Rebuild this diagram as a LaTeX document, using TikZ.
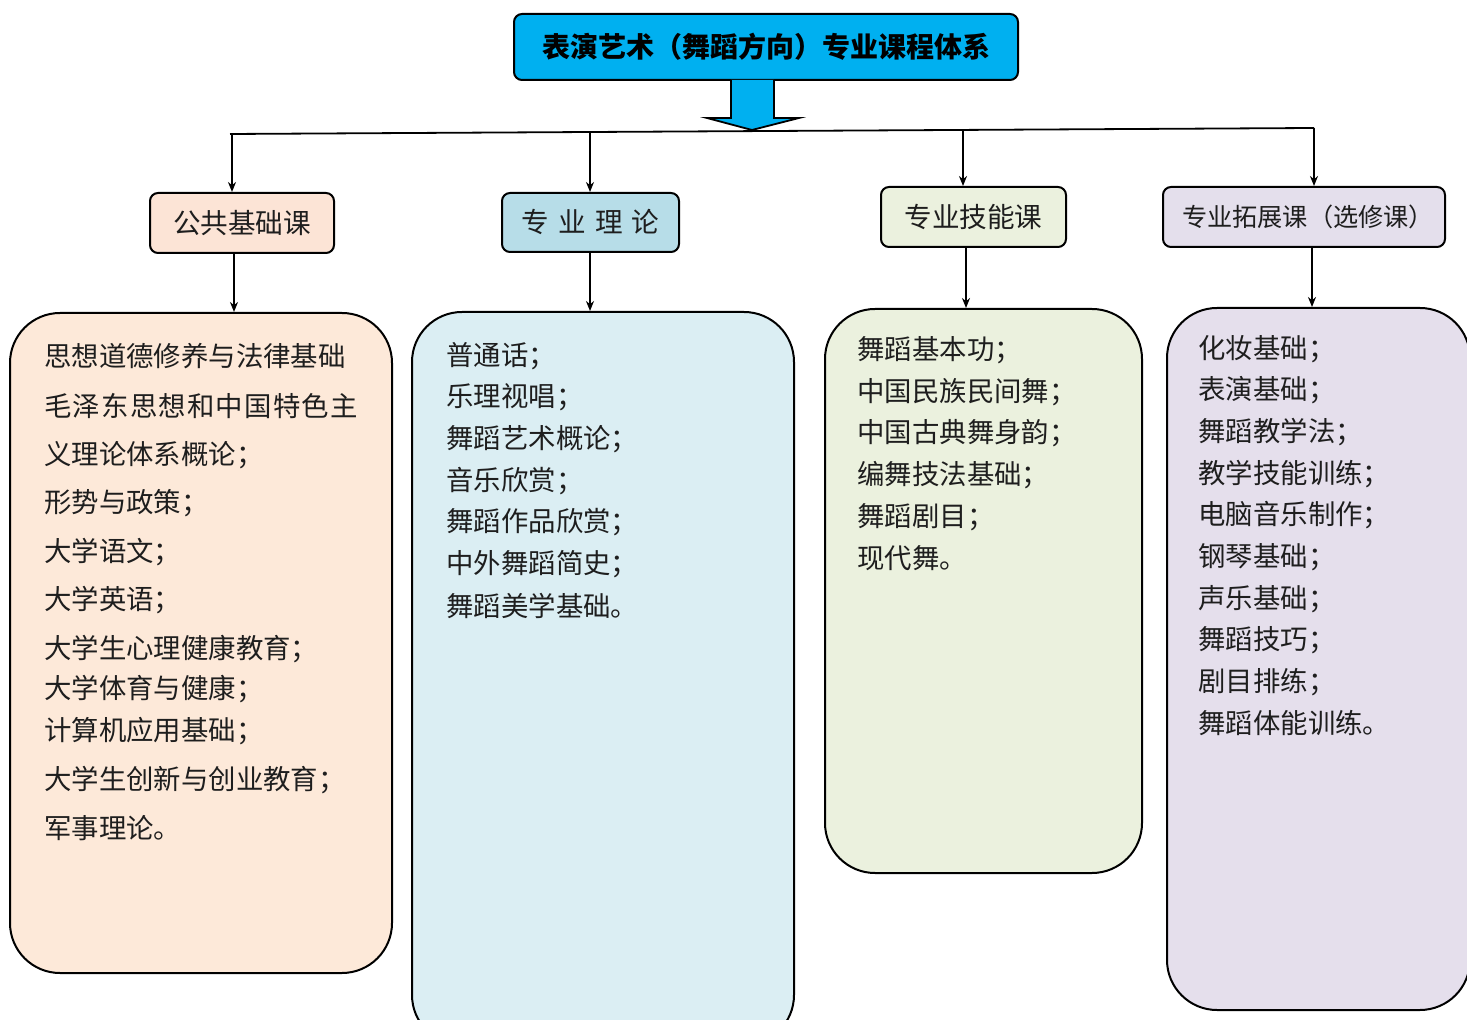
\documentclass[tikz,border=0pt]{standalone}
\usepackage{fontspec}
\newfontfamily\cjk{Noto Sans CJK SC}
\usetikzlibrary{arrows.meta}
\definecolor{titlecyan}{HTML}{00B0F0}
\definecolor{hA}{HTML}{FCE4D6}
\definecolor{hB}{HTML}{B7DDE8}
\definecolor{hC}{HTML}{EBF1DE}
\definecolor{hD}{HTML}{E4DFEC}
\definecolor{bA}{HTML}{FDE9D9}
\definecolor{bB}{HTML}{DBEEF3}
\definecolor{bC}{HTML}{EBF1DE}
\definecolor{bD}{HTML}{E5DFEC}
\definecolor{txt}{HTML}{1E1E1E}
\begin{document}
\begin{tikzpicture}[x=0.5pt,y=-0.5pt,
  hdr/.style={draw=black, line width=1pt, rounded corners=4pt, inner sep=0pt, font=\cjk\fontsize{13.8}{15}\selectfont, text=txt},
  bigbox/.style={draw=black, line width=1pt, rounded corners=25pt, inner sep=0pt},
  item/.style={anchor=west, inner sep=0pt, font=\cjk\fontsize{13.7}{15}\selectfont, text=txt},
  conn/.style={line width=0.9pt, -{Stealth[length=5pt,width=4pt]}},
  bar/.style={line width=0.9pt}
]
\useasboundingbox (0,0) rectangle (1467,1020);
\begin{scope}
\clip (0,0) rectangle (1467,1020);
% title
\node[draw=black, line width=1pt, fill=titlecyan, rounded corners=4pt, minimum width=252pt, minimum height=33pt, inner sep=0pt, font=\cjk\bfseries\fontsize{14}{16}\selectfont] (title) at (766,47) {表演艺术（舞蹈方向）专业课程体系};
% block arrow
\draw[line width=0.9pt, fill=titlecyan, line join=miter] (731,80) -- (731,118) -- (707,118) -- (752,130) -- (799,118) -- (774,118) -- (774,80);
\coordinate (bl) at (230,134);
\coordinate (br) at (1314,128);
\coordinate (j1) at (232,134);
\coordinate (j2) at (590,132);
\coordinate (j3) at (963,130);
\coordinate (j4) at (1314,128);
\draw[bar] (bl) -- (br);
% headers
\node[hdr, fill=hA, minimum width=92pt, minimum height=30pt] (h1) at (242,223) {公共基础课};
\node[hdr, fill=hB, minimum width=88.5pt, minimum height=29.5pt] (h2) at (590.5,222.5) {专\hspace{4.5pt}业\hspace{4.5pt}理\hspace{4.5pt}论};
\node[hdr, fill=hC, minimum width=92.5pt, minimum height=30pt] (h3) at (973.5,217) {专业技能课};
\node[hdr, fill=hD, minimum width=141pt, minimum height=30pt, font=\cjk\fontsize{12.6}{15}\selectfont] (h4) at (1304,217) {\hspace{4pt}专业拓展课（选修课）};
\draw[conn] (j1) -- (j1 |- h1.north);
\draw[conn] (j2) -- (j2 |- h2.north);
\draw[conn] (j3) -- (j3 |- h3.north);
\draw[conn] (j4) -- (j4 |- h4.north);
% big boxes
\node[bigbox, fill=bA, minimum width=191pt, minimum height=330pt] (b1) at (201,643) {};
\node[bigbox, fill=bB, minimum width=191pt, minimum height=366.5pt] (b2) at (603,678.5) {};
\node[bigbox, fill=bC, minimum width=158.5pt, minimum height=282pt] (b3) at (983.5,591) {};
\node[bigbox, fill=bD, minimum width=151.5pt, minimum height=351pt] (b4) at (1318.5,659) {};
\coordinate (k1) at (234,253);
\coordinate (k2) at (590,252);
\coordinate (k3) at (966,247);
\coordinate (k4) at (1312,247);
\draw[conn] (k1) -- (k1 |- b1.north);
\draw[conn] (k2) -- (k2 |- b2.north);
\draw[conn] (k3) -- (k3 |- b3.north);
\draw[conn] (k4) -- (k4 |- b4.north);
% box 1 text
\node[item] (a1) at (44,356) {思想道德修养与法律基础};
\node[item] (a2) at (44,406) {毛\hspace{0.6pt}泽\hspace{0.6pt}东\hspace{0.6pt}思\hspace{0.6pt}想\hspace{0.6pt}和\hspace{0.6pt}中\hspace{0.6pt}国\hspace{0.6pt}特\hspace{0.6pt}色\hspace{0.6pt}主};
\node[item] (a3) at (44,455) {义理论体系概论；};
\node[item] (a4) at (44,503) {形势与政策；};
\node[item] (a5) at (44,552) {大学语文；};
\node[item] (a6) at (44,600) {大学英语；};
\node[item] (a7) at (44,649) {大学生心理健康教育；};
\node[item] (a8) at (44,689) {大学体育与健康；};
\node[item] (a9) at (44,731) {计算机应用基础；};
\node[item] (a10) at (44,780) {大学生创新与创业教育；};
\node[item] (a11) at (44,828) {军事理论。};
% box 2 text
\node[item] (c1) at (446,356) {普通话；};
\node[item] (c2) at (446,397) {乐理视唱；};
\node[item] (c3) at (446,439) {舞蹈艺术概论；};
\node[item] (c4) at (446,481) {音乐欣赏；};
\node[item] (c5) at (446,522) {舞蹈作品欣赏；};
\node[item] (c6) at (446,564) {中外舞蹈简史；};
\node[item] (c7) at (446,606) {舞蹈美学基础。};
% box 3 text
\node[item] (d1) at (857,350) {舞蹈基本功；};
\node[item] (d2) at (857,392) {中国民族民间舞；};
\node[item] (d3) at (857,433) {中国古典舞身韵；};
\node[item] (d4) at (857,475) {编舞技法基础；};
\node[item] (d5) at (857,517) {舞蹈剧目；};
\node[item] (d6) at (857,558) {现代舞。};
% box 4 text
\node[item] (e1) at (1198,349) {化妆基础；};
\node[item] (e2) at (1198,390) {表演基础；};
\node[item] (e3) at (1198,432) {舞蹈教学法；};
\node[item] (e4) at (1198,474) {教学技能训练；};
\node[item] (e5) at (1198,515) {电脑音乐制作；};
\node[item] (e6) at (1198,557) {钢琴基础；};
\node[item] (e7) at (1198,599) {声乐基础；};
\node[item] (e8) at (1198,640) {舞蹈技巧；};
\node[item] (e9) at (1198,682) {剧目排练；};
\node[item] (e10) at (1198,723) {舞蹈体能训练。};
\end{scope}
\end{tikzpicture}
\end{document}
